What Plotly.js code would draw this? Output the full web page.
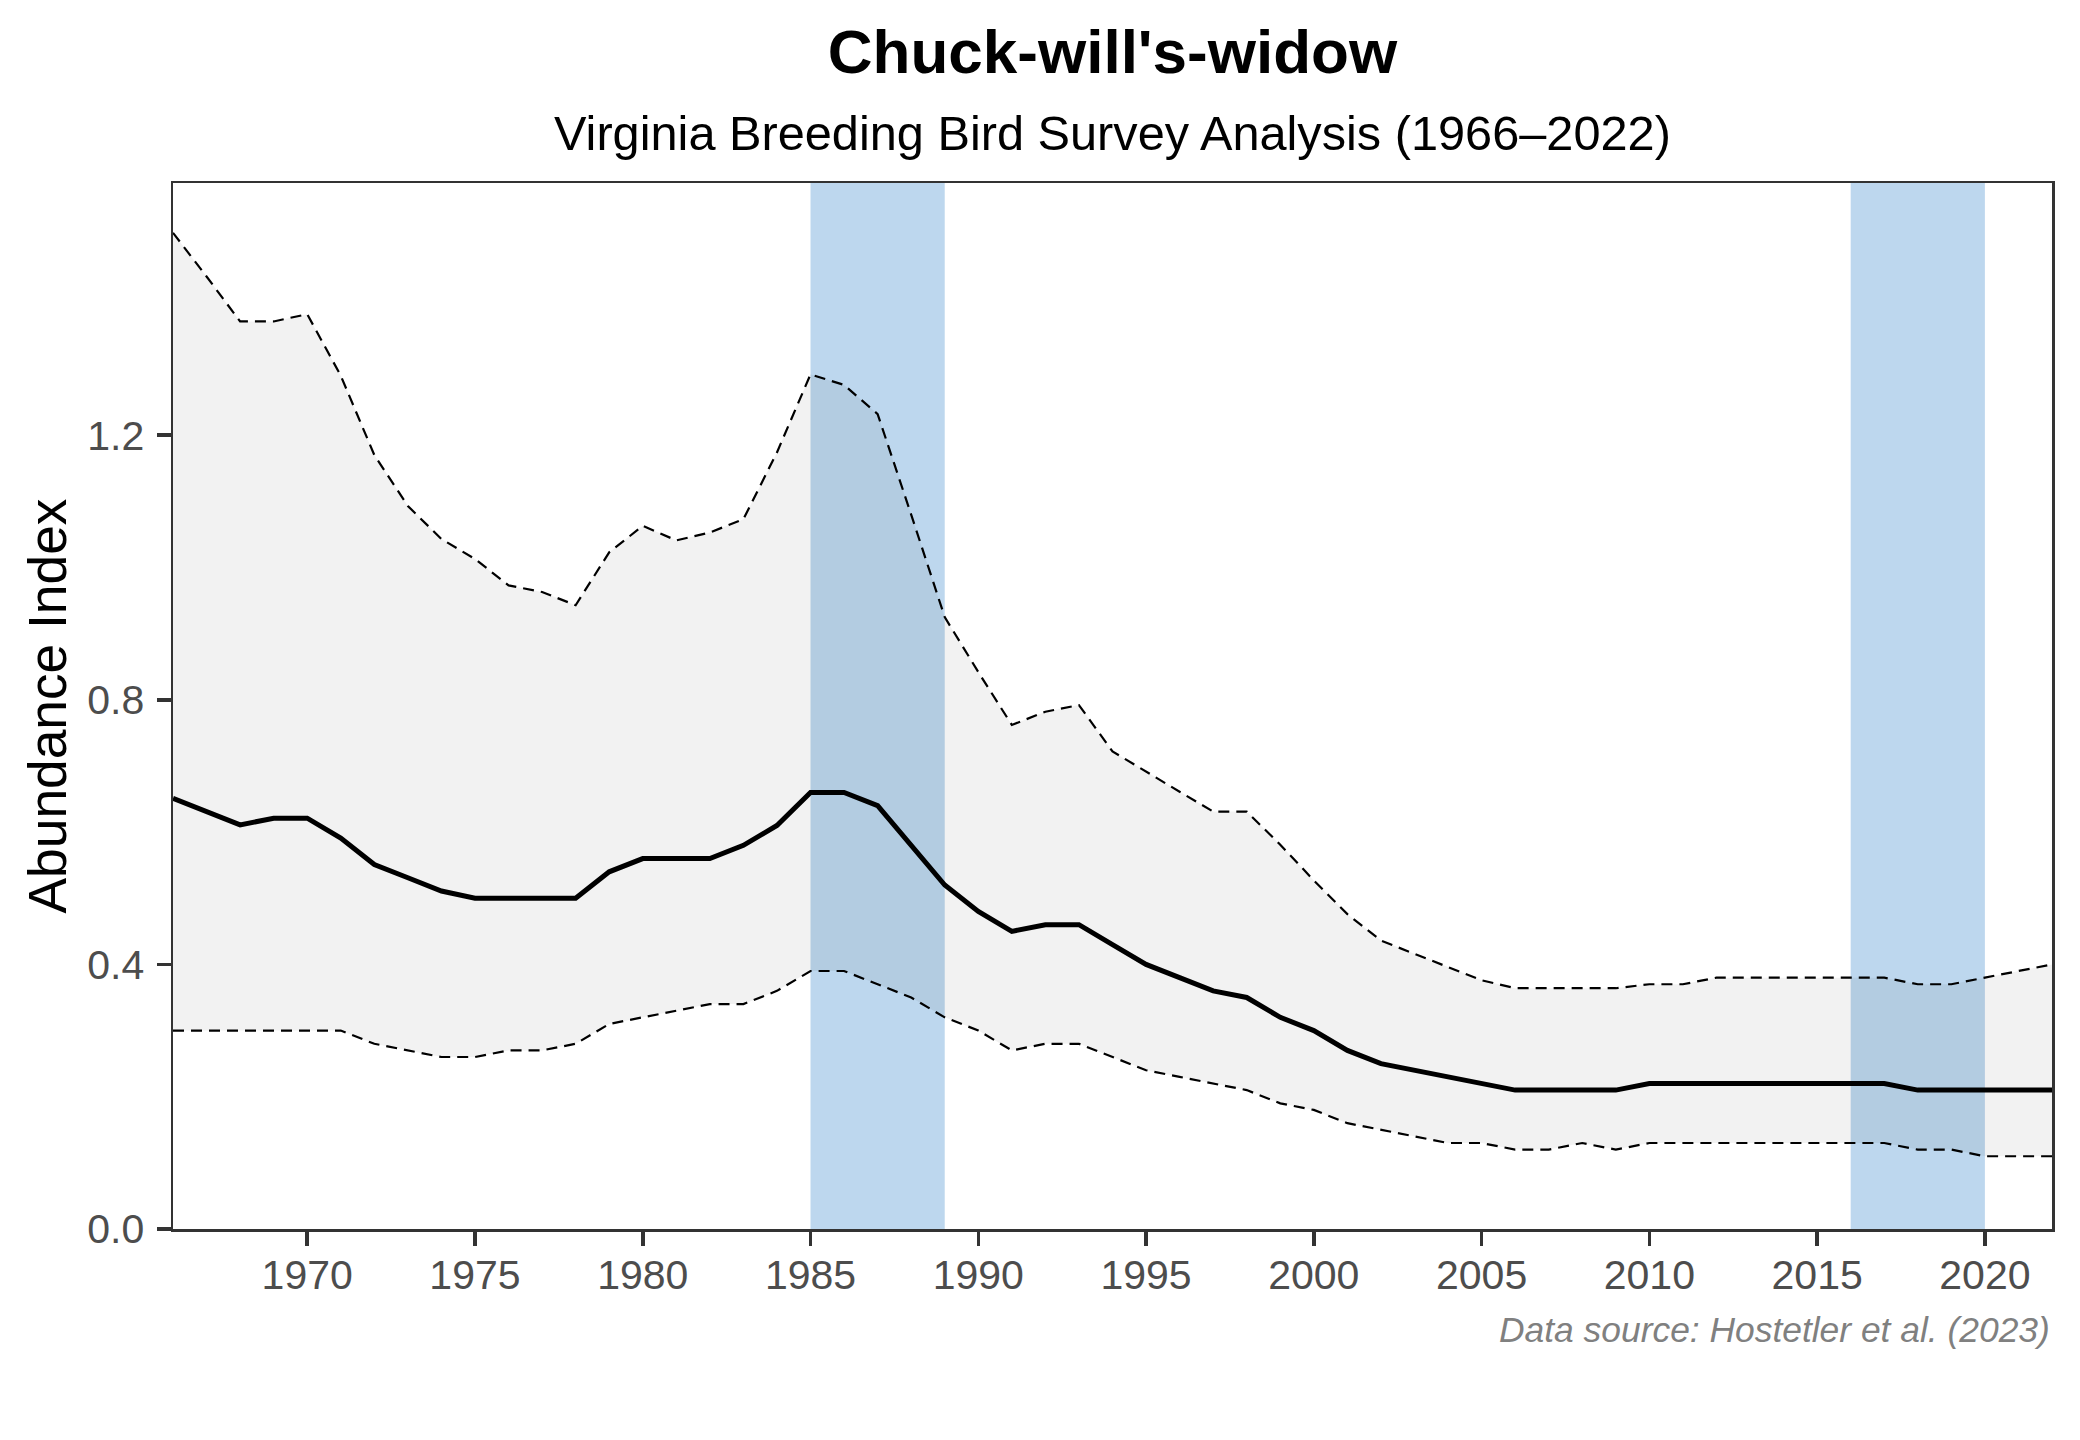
<!DOCTYPE html>
<html>
<head>
<meta charset="utf-8">
<script src="https://cdn.plot.ly/plotly-3.0.1.min.js"></script>
<style>html,body{margin:0;padding:0;background:#fff;}#chart{width:2080px;height:1440px;}</style>
</head>
<body>
<div id="chart"></div>
<script>
const years = [];
for (let y = 1966; y <= 2022; y++) years.push(y);

const meanIndex = [0.651,0.631,0.611,0.621,0.621,0.591,0.551,0.531,0.511,0.50,
  0.50,0.50,0.50,0.54,0.56,0.56,0.56,0.58,0.61,0.66,
  0.66,0.64,0.58,0.52,0.48,0.45,0.46,0.46,0.43,0.40,
  0.38,0.36,0.35,0.32,0.30,0.27,0.25,0.24,0.23,0.22,
  0.21,0.21,0.21,0.21,0.22,0.22,0.22,0.22,0.22,0.22,
  0.22,0.22,0.21,0.21,0.21,0.21,0.21];

const upperCI = [1.506,1.44,1.372,1.372,1.383,1.29,1.17,1.093,1.043,1.013,
  0.973,0.963,0.943,1.023,1.063,1.041,1.053,1.073,1.174,1.292,
  1.276,1.232,1.08,0.925,0.842,0.762,0.782,0.792,0.722,0.691,
  0.661,0.631,0.631,0.581,0.527,0.476,0.436,0.416,0.396,0.376,
  0.364,0.364,0.364,0.364,0.37,0.37,0.38,0.38,0.38,0.38,
  0.38,0.38,0.37,0.37,0.38,0.39,0.40];

const lowerCI = [0.30,0.30,0.30,0.30,0.30,0.30,0.28,0.27,0.26,0.26,
  0.27,0.27,0.28,0.31,0.32,0.33,0.34,0.34,0.36,0.39,
  0.39,0.37,0.35,0.32,0.30,0.27,0.28,0.28,0.26,0.24,
  0.23,0.22,0.21,0.19,0.18,0.16,0.15,0.14,0.13,0.13,
  0.12,0.12,0.13,0.12,0.13,0.13,0.13,0.13,0.13,0.13,
  0.13,0.13,0.12,0.12,0.11,0.11,0.11];

const bandStarts = [1985, 2016];
const bandEnds = [1989, 2020];

const xTicks = [1970,1975,1980,1985,1990,1995,2000,2005,2010,2015,2020];
const yTicks = [0.0,0.4,0.8,1.2];

const yMax = Math.max(...upperCI) * 1.05;

const dashStyle = '11px,7px';

const traces = [
  {x: years, y: lowerCI, type: 'scatter', mode: 'lines',
   line: {color: '#000000', width: 2.2, dash: dashStyle}, hoverinfo: 'skip', showlegend: false},
  {x: years, y: upperCI, type: 'scatter', mode: 'lines', fill: 'tonexty',
   fillcolor: 'rgba(0,0,0,0.05)',
   line: {color: '#000000', width: 2.2, dash: dashStyle}, hoverinfo: 'skip', showlegend: false},
  {x: years, y: meanIndex, type: 'scatter', mode: 'lines',
   line: {color: '#000000', width: 5}, showlegend: false}
];

const shapes = bandStarts.map((s, i) => ({
  type: 'rect', xref: 'x', yref: 'paper', x0: s, x1: bandEnds[i], y0: 0, y1: 1,
  fillcolor: '#BDD7EE', line: {width: 0}, layer: 'below'
}));

const font = 'Liberation Sans, Arial, Helvetica, sans-serif';
const plotTop = 183, plotBottom = 1229, H = 1440;
const plotH = plotBottom - plotTop;
const paperY = py => (H - py - (H - plotBottom)) / plotH;

const layout = {
  width: 2080, height: 1440,
  paper_bgcolor: '#ffffff', plot_bgcolor: '#ffffff',
  margin: {l: 173, r: 28, t: plotTop, b: H - plotBottom, pad: 0},
  font: {family: font, color: '#000000'},
  title: {text: "<b>Chuck-will's-widow</b>", font: {family: font, size: 62, color: '#000000'},
    x: 0.5, xref: 'paper', xanchor: 'center', y: 1 - 51/1440, yref: 'container', yanchor: 'middle'},
  xaxis: {
    range: [1966, 2022], tickvals: xTicks, ticktext: xTicks.map(String),
    showgrid: false, zeroline: false, showline: true, linecolor: '#333333', linewidth: 2.5, mirror: true,
    ticks: 'outside', ticklen: 14, tickwidth: 3.5, tickcolor: '#333333',
    tickfont: {family: font, size: 41, color: '#4D4D4D'}, ticklabelstandoff: -6
  },
  yaxis: {
    range: [0, yMax], tickvals: yTicks, ticktext: yTicks.map(v => v.toFixed(1)),
    showgrid: false, zeroline: false, showline: true, linecolor: '#333333', linewidth: 2.5, mirror: true,
    ticks: 'outside', ticklen: 14, tickwidth: 3.5, tickcolor: '#333333',
    tickfont: {family: font, size: 41, color: '#4D4D4D'}, ticklabelstandoff: 4,
    title: {text: 'Abundance Index', font: {family: font, size: 53.3, color: '#000000'}, standoff: 4}
  },
  shapes: shapes,
  annotations: [
    {text: 'Virginia Breeding Bird Survey Analysis (1966–2022)', xref: 'paper', yref: 'paper',
     x: 0.5, y: paperY(133), xanchor: 'center', yanchor: 'middle', showarrow: false,
     font: {family: font, size: 48.7, color: '#000000'}},
    {text: '<i>Data source: Hostetler et al. (2023)</i>', xref: 'paper', yref: 'paper',
     x: 1, y: paperY(1330), xanchor: 'right', yanchor: 'middle', showarrow: false,
     font: {family: font, size: 35.4, color: '#808080'}}
  ]
};

Plotly.newPlot('chart', traces, layout, {displayModeBar: false, staticPlot: true});
</script>
</body>
</html>
